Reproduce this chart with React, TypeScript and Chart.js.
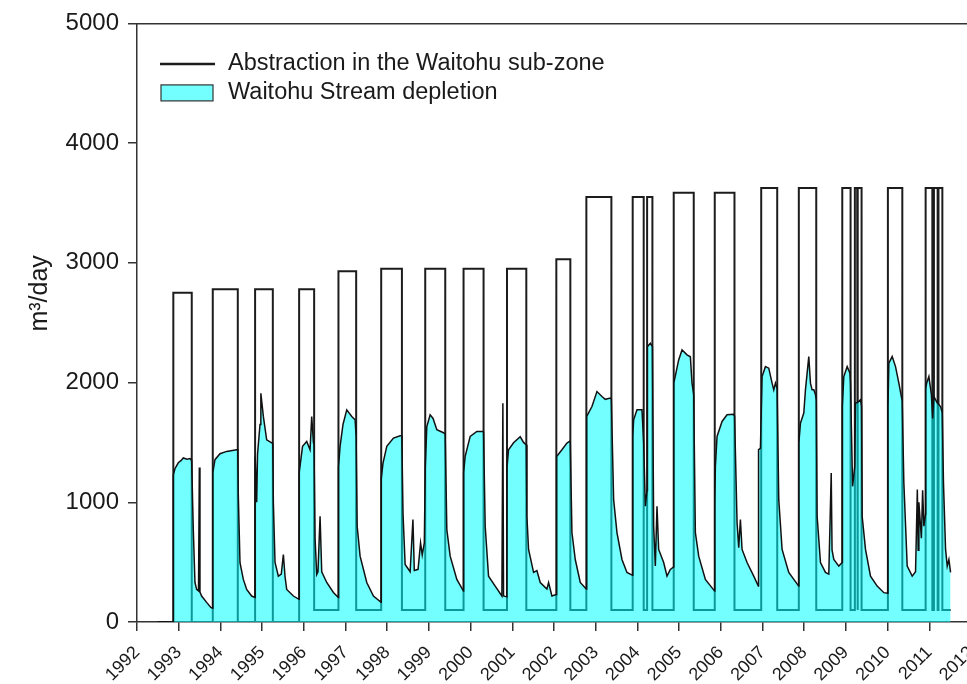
import React, { useEffect, useRef } from 'react';
import { Chart, registerables } from 'chart.js';

Chart.register(...registerables);

const FONT = "'Liberation Sans', Arial, Helvetica, sans-serif";
const TEXT = '#1a1a1a';
const AXIS = '#333333';

const yearTicks = [1992, 1993, 1994, 1995, 1996, 1997, 1998, 1999, 2000, 2001, 2002, 2003, 2004, 2005, 2006, 2007, 2008, 2009, 2010, 2011, 2012];
const valueTicks = [0, 1000, 2000, 3000, 4000, 5000];

const seriesLabels = ['Abstraction in the Waitohu sub-zone', 'Waitohu Stream depletion'];
const yAxisTitle = 'm³/day';

// Abstraction: dates where the rate changes, and the rate from that date on
const abstractionX = [
  1992.50, 1992.871, 1993.313, 1993.817, 1994.417, 1994.832, 1995.257, 1995.888, 1996.248,
  1996.831, 1997.256, 1997.856, 1998.353, 1998.912, 1999.392, 1999.831, 2000.311,
  2000.873, 2001.336, 2002.056, 2002.392, 2002.776, 2003.376, 2003.887, 2004.151,
  2004.233, 2004.36, 2004.871, 2005.351, 2005.855, 2006.328, 2006.969, 2007.353,
  2007.871, 2008.289, 2008.913, 2009.112, 2009.215, 2009.27, 2009.29, 2009.376,
  2010.007, 2010.353, 2010.912, 2011.073, 2011.111, 2011.20, 2011.22, 2011.313, 2011.512,
];
const abstractionY = [
  0, 2750, 0, 2780, 0, 2780, 0, 2780, 100,
  2930, 100, 2950, 100, 2950, 100, 2950, 100,
  2950, 100, 3030, 100, 3550, 100, 3550, 100,
  3550, 100, 3585, 100, 3585, 100, 3625, 100,
  3625, 100, 3625, 100, 3625, 100, 3625, 100,
  3625, 100, 3625, 100, 3625, 100, 3625, 100, 100,
];

// Stream depletion
const depletionX = [
  1992.50, 1992.87, 1992.872, 1992.91, 1992.99, 1993.06, 1993.11, 1993.20, 1993.27, 1993.31,
  1993.35, 1993.39, 1993.43, 1993.475, 1993.495, 1993.51, 1993.55, 1993.67, 1993.77, 1993.815,
  1993.819, 1993.87, 1993.99, 1994.15, 1994.39, 1994.415, 1994.43, 1994.47, 1994.55, 1994.63,
  1994.75, 1994.83, 1994.834, 1994.87, 1994.89, 1994.95, 1994.97, 1995.03, 1995.11, 1995.23,
  1995.255, 1995.27, 1995.31, 1995.39, 1995.46, 1995.51, 1995.55, 1995.59, 1995.75, 1995.885,
  1995.89, 1995.97, 1996.07, 1996.15, 1996.19, 1996.23, 1996.245, 1996.27, 1996.31, 1996.34,
  1996.39, 1996.43, 1996.55, 1996.71, 1996.828, 1996.833, 1996.87, 1996.94, 1997.03, 1997.15,
  1997.23, 1997.255, 1997.28, 1997.35, 1997.51, 1997.67, 1997.853, 1997.858, 1997.90, 1997.99,
  1998.15, 1998.31, 1998.35, 1998.38, 1998.43, 1998.55, 1998.617, 1998.65, 1998.74, 1998.80,
  1998.84, 1998.89, 1998.914, 1998.95, 1999.03, 1999.10, 1999.19, 1999.35, 1999.39, 1999.43,
  1999.51, 1999.67, 1999.828, 1999.833, 1999.87, 1999.99, 2000.15, 2000.30, 2000.31, 2000.35,
  2000.43, 2000.59, 2000.75, 2000.774, 2000.79, 2000.87, 2000.875, 2000.91, 2001.03, 2001.19,
  2001.27, 2001.335, 2001.35, 2001.39, 2001.51, 2001.59, 2001.67, 2001.83, 2001.87, 2001.95,
  2002.053, 2002.058, 2002.07, 2002.19, 2002.31, 2002.375, 2002.39, 2002.43, 2002.51, 2002.63,
  2002.773, 2002.778, 2002.79, 2002.91, 2003.03, 2003.15, 2003.23, 2003.35, 2003.375, 2003.43,
  2003.51, 2003.63, 2003.75, 2003.885, 2003.889, 2003.91, 2003.99, 2004.11, 2004.15, 2004.19,
  2004.232, 2004.24, 2004.31, 2004.36, 2004.39, 2004.43, 2004.47, 2004.51, 2004.63, 2004.71,
  2004.79, 2004.868, 2004.873, 2004.99, 2005.07, 2005.19, 2005.27, 2005.31, 2005.35, 2005.39,
  2005.47, 2005.63, 2005.852, 2005.857, 2005.87, 2005.91, 2006.03, 2006.15, 2006.30, 2006.33,
  2006.39, 2006.43, 2006.47, 2006.51, 2006.63, 2006.79, 2006.90, 2006.905, 2006.95, 2006.99,
  2007.07, 2007.15, 2007.23, 2007.27, 2007.31, 2007.35, 2007.39, 2007.47, 2007.63, 2007.868,
  2007.873, 2007.91, 2007.99, 2008.03, 2008.11, 2008.15, 2008.19, 2008.23, 2008.27, 2008.29,
  2008.31, 2008.39, 2008.51, 2008.59, 2008.648, 2008.668, 2008.71, 2008.83, 2008.91, 2008.915,
  2008.95, 2009.03, 2009.095, 2009.11, 2009.16, 2009.213, 2009.23, 2009.27, 2009.35, 2009.375,
  2009.39, 2009.47, 2009.59, 2009.75, 2009.91, 2010.005, 2010.009, 2010.03, 2010.11, 2010.19,
  2010.27, 2010.33, 2010.35, 2010.39, 2010.47, 2010.59, 2010.67, 2010.713, 2010.733, 2010.75,
  2010.81, 2010.84, 2010.87, 2010.91, 2010.914, 2010.936, 2010.99, 2011.05, 2011.08, 2011.11,
  2011.19, 2011.27, 2011.31, 2011.34, 2011.39, 2011.43, 2011.47, 2011.51,
];
const depletionY = [
  0, 0, 1230, 1280, 1330, 1350, 1370, 1360, 1365, 1350,
  770, 330, 272, 260, 1290, 250, 217, 164, 122, 115,
  1250, 1356, 1406, 1425, 1439, 1440, 1050, 495, 356, 272,
  217, 205, 1380, 1000, 1400, 1650, 1911, 1717, 1522, 1497,
  1490, 1000, 497, 383, 400, 564, 380, 272, 217, 189,
  1250, 1467, 1508, 1439, 1717, 1500, 1480, 700, 397, 420,
  883, 420, 330, 247, 205, 1300, 1467, 1650, 1772, 1717,
  1689, 1550, 800, 550, 330, 217, 164, 1200, 1328, 1467,
  1536, 1556, 1555, 900, 480, 420, 856, 430, 440, 660,
  560, 660, 1300, 1633, 1731, 1700, 1606, 1581, 1570, 772,
  550, 356, 258, 1250, 1383, 1550, 1592, 1592, 1590, 800,
  383, 300, 217, 1828, 217, 210, 1300, 1439, 1497, 1547,
  1500, 1480, 883, 606, 414, 430, 330, 275, 330, 217,
  230, 1250, 1383, 1439, 1495, 1510, 1500, 747, 522, 330,
  275, 1500, 1717, 1800, 1925, 1883, 1860, 1870, 1860, 1022,
  747, 522, 414, 390, 1550, 1689, 1772, 1772, 1500, 967,
  1100, 2300, 2328, 2300, 800, 467, 967, 606, 497, 383,
  439, 460, 1995, 2189, 2272, 2231, 2215, 1994, 1900, 747,
  550, 356, 258, 1000, 1300, 1550, 1675, 1731, 1735, 1720,
  831, 620, 856, 606, 497, 383, 300, 1439, 1450, 2050,
  2133, 2120, 1995, 1939, 1995, 1950, 1022, 606, 414, 300,
  1500, 1661, 1745, 1939, 2217, 1995, 1939, 1939, 1900, 1850,
  883, 497, 414, 400, 1245, 600, 522, 467, 497, 1800,
  2050, 2133, 2080, 2000, 1133, 1300, 1831, 1831, 1856, 1800,
  883, 606, 383, 300, 245, 240, 1800, 2161, 2217, 2133,
  1995, 1883, 1850, 1161, 467, 383, 420, 1106, 600, 1000,
  700, 1100, 800, 900, 1950, 1994, 2050, 1900, 1700, 1883,
  1831, 1800, 1750, 1161, 606, 467, 522, 414,
];

function buildSteps(xs: number[], ys: number[]) {
  const pts: { x: number; y: number }[] = [];
  for (let i = 0; i < xs.length; i++) {
    if (i > 0) pts.push({ x: xs[i], y: ys[i - 1] });
    pts.push({ x: xs[i], y: ys[i] });
  }
  return pts;
}

const overlayPlugin = {
  id: 'overlayText',
  afterDraw(chart: any) {
    const { ctx, chartArea } = chart;
    ctx.save();
    // legend inside plot
    const x0 = chartArea.left + 23;
    const y0 = chartArea.top + 40.5;
    ctx.strokeStyle = '#1c1c1c';
    ctx.lineWidth = 2.5;
    ctx.beginPath();
    ctx.moveTo(x0, y0);
    ctx.lineTo(x0 + 55, y0);
    ctx.stroke();
    ctx.fillStyle = 'rgba(0,255,255,0.55)';
    ctx.fillRect(x0 + 1, y0 + 21, 52, 16);
    ctx.strokeStyle = '#333';
    ctx.lineWidth = 1.2;
    ctx.strokeRect(x0 + 1, y0 + 21, 52, 16);
    ctx.fillStyle = TEXT;
    ctx.font = `23.5px ${FONT}`;
    ctx.textAlign = 'left';
    ctx.textBaseline = 'middle';
    ctx.fillText(chart.data.datasets[0].label, x0 + 68, y0);
    ctx.fillText(chart.data.datasets[1].label, x0 + 68, y0 + 29);
    // y axis title
    ctx.font = `25px ${FONT}`;
    ctx.translate(40, chartArea.top + 270);
    ctx.rotate(-Math.PI / 2);
    ctx.textAlign = 'center';
    ctx.fillText(yAxisTitle, 0, 0);
    ctx.restore();
  },
};

export default function App() {
  const ref = useRef<HTMLCanvasElement | null>(null);

  useEffect(() => {
    if (!ref.current) return;
    const chart = new Chart(ref.current, {
      type: 'line',
      data: {
        datasets: [
          {
            label: seriesLabels[0],
            data: buildSteps(abstractionX, abstractionY),
            borderColor: '#1c1c1c',
            borderWidth: 2,
            pointRadius: 0,
            fill: false,
            tension: 0,
            order: 1,
          },
          {
            label: seriesLabels[1],
            data: depletionX.map((x, i) => ({ x, y: depletionY[i] })),
            borderColor: '#111111',
            borderWidth: 1.5,
            backgroundColor: 'rgba(0,255,255,0.55)',
            fill: 'origin',
            pointRadius: 0,
            tension: 0,
            order: 0,
          },
        ],
      } as any,
      options: {
        responsive: false,
        animation: false,
        devicePixelRatio: 1,
        events: [],
        layout: { padding: { left: 0, right: 29, top: 22, bottom: 0 } },
        plugins: {
          legend: { display: false },
          tooltip: { enabled: false },
        },
        scales: {
          x: {
            type: 'linear',
            position: 'bottom',
            min: 1992,
            max: 2012,
            afterBuildTicks: (s: any) => {
              s.ticks = yearTicks.map((v) => ({ value: v }));
            },
            afterFit: (s: any) => {
              s.height = 62;
            },
            ticks: {
              autoSkip: false,
              minRotation: 45,
              maxRotation: 45,
              padding: 11,
              color: TEXT,
              font: { family: FONT, size: 18 },
              callback: (v: any) => String(v),
            },
            grid: { display: true, drawOnChartArea: false, drawTicks: true, tickLength: 9, color: AXIS, lineWidth: 1.5 },
            border: { display: true, color: AXIS, width: 1.5 },
          },
          xTop: {
            type: 'linear',
            position: 'top',
            min: 1992,
            max: 2012,
            ticks: { display: false },
            grid: { display: false, drawTicks: false },
            border: { display: true, color: AXIS, width: 1.5 },
            afterFit: (s: any) => {
              s.height = 0;
            },
          },
          y: {
            type: 'linear',
            min: 0,
            max: 5000,
            afterBuildTicks: (s: any) => {
              s.ticks = valueTicks.map((v) => ({ value: v }));
            },
            afterFit: (s: any) => {
              s.width = 137;
            },
            ticks: {
              padding: 9,
              color: TEXT,
              font: { family: FONT, size: 24 },
              callback: (v: any) => String(v),
            },
            grid: { display: true, drawOnChartArea: false, drawTicks: true, tickLength: 9, color: AXIS, lineWidth: 1.5 },
            border: { display: true, color: AXIS, width: 1.5 },
          },
        },
      } as any,
      plugins: [overlayPlugin],
    });
    return () => chart.destroy();
  }, []);

  return (
    <div style={{ position: 'absolute', left: 0, top: 0, width: 967, height: 684, overflow: 'hidden', background: '#fff' }}>
      <canvas ref={ref} width={1000} height={684} style={{ display: 'block', width: 1000, height: 684 }} />
    </div>
  );
}
